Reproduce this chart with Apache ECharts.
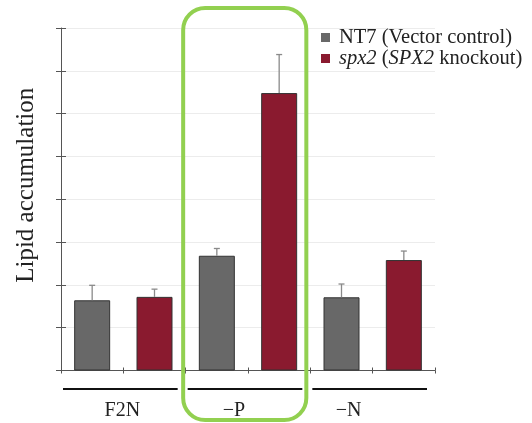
<!DOCTYPE html>
<html>
<head>
<meta charset="utf-8">
<script src="https://cdn.jsdelivr.net/npm/echarts@6/dist/echarts.min.js"></script>
<style>
  html, body { margin: 0; padding: 0; background: #fff; }
  #chart { width: 532px; height: 423px; }
</style>
</head>
<body>
<div id="chart"></div>
<script>
// 数据
var groups = ["F2N", "\u2212P", "\u2212N"];
var seriesNames = ["NT7 (Vector control)", "spx2 (SPX2 knockout)"];
var nt7Values = [1.64, 2.68, 1.71];
var nt7Err = [0.35, 0.17, 0.31];
var spx2Values = [1.72, 6.48, 2.58];
var spx2Err = [0.18, 0.9, 0.21];
var yTicks = [0, 1, 2, 3, 4, 5, 6, 7, 8];

var serif = "Liberation Serif";
var gray = "#686868";
var red = "#8a1a2f";

// 每组两个柱子，拆成6个类目
var slots = [];
var nt7Data = [];
var spx2Data = [];
var errData = [];
for (var i = 0; i < groups.length; i++) {
  slots.push(groups[i] + "-a", groups[i] + "-b");
  nt7Data.push(nt7Values[i], "-");
  spx2Data.push("-", spx2Values[i]);
  errData.push([i * 2, nt7Values[i], nt7Err[i]]);
  errData.push([i * 2 + 1, spx2Values[i], spx2Err[i]]);
}

var myChart = echarts.init(document.getElementById("chart"));

var option = {
  animation: false,
  legend: {
    orient: "vertical",
    left: 316,
    top: 22,
    icon: "rect",
    itemWidth: 9,
    itemHeight: 9,
    itemGap: 0,
    selectedMode: false,
    data: seriesNames,
    itemStyle: { borderWidth: 0 },
    formatter: function (name) {
      if (name === seriesNames[1]) {
        return "{i|spx2} ({i|SPX2} knockout)";
      }
      return name;
    },
    textStyle: {
      fontFamily: serif,
      fontSize: 20.5,
      lineHeight: 20,
      color: "#222",
      padding: [0, 0, 0, 4],
      rich: {
        i: { fontFamily: serif, fontSize: 20.5, fontStyle: "italic", color: "#222" },
      },
    },
  },
  grid: {
    left: 61,
    right: 97,
    top: 28,
    bottom: 52.5,
  },
  xAxis: [
    {
      type: "category",
      data: slots,
      axisLabel: { show: false },
      axisLine: { lineStyle: { color: "#555", width: 1 } },
      axisTick: { show: true, length: 3, lineStyle: { color: "#555" } },
    },
    {
      // 向上的刻度
      type: "category",
      data: slots,
      position: "bottom",
      axisLabel: { show: false },
      axisLine: { show: false },
      axisTick: { show: true, inside: true, length: 3, lineStyle: { color: "#555" } },
    },
  ],
  yAxis: [
    {
      type: "value",
      min: yTicks[0],
      max: yTicks[yTicks.length - 1],
      interval: 1,
      name: "Lipid accumulation",
      nameLocation: "middle",
      nameGap: 22,
      nameTextStyle: {
        fontFamily: serif,
        fontSize: 25,
        color: "#222",
        padding: [0, 0, 0, 28],
      },
      axisLabel: { show: false },
      axisLine: { show: true, lineStyle: { color: "#555", width: 1 } },
      axisTick: { show: true, length: 5, lineStyle: { color: "#555" } },
      splitLine: { show: true, lineStyle: { color: "#ececec", width: 1 } },
    },
    {
      type: "value",
      min: yTicks[0],
      max: yTicks[yTicks.length - 1],
      interval: 1,
      position: "left",
      axisLabel: { show: false },
      axisLine: { show: false },
      axisTick: { show: true, inside: true, length: 5, lineStyle: { color: "#555" } },
      splitLine: { show: false },
    },
  ],
  series: [
    {
      name: seriesNames[0],
      type: "bar",
      data: nt7Data,
      barWidth: 36,
      barGap: "-100%",
      itemStyle: { color: gray, borderColor: "#333", borderWidth: 1 },
    },
    {
      name: seriesNames[1],
      type: "bar",
      data: spx2Data,
      barWidth: 36,
      barGap: "-100%",
      itemStyle: { color: red, borderColor: "#333", borderWidth: 1 },
    },
    {
      // 误差线
      type: "custom",
      data: errData,
      z: 5,
      renderItem: function (params, api) {
        var x = api.value(0);
        var v = api.value(1);
        var e = api.value(2);
        var p0 = api.coord([x, v]);
        var p1 = api.coord([x, v + e]);
        var style = { stroke: "#8a8a8a", lineWidth: 1.3 };
        return {
          type: "group",
          children: [
            { type: "line", shape: { x1: p0[0], y1: p0[1], x2: p1[0], y2: p1[1] }, style: style },
            { type: "line", shape: { x1: p1[0] - 3, y1: p1[1], x2: p1[0] + 3, y2: p1[1] }, style: style },
          ],
        };
      },
    },
  ],
};

myChart.setOption(option);

// 分组下划线、组名、绿色框
var centers = slots.map(function (s, idx) {
  return myChart.convertToPixel({ xAxisIndex: 0 }, idx);
});
var step = centers[1] - centers[0];
var labelShift = [-1, -14, -24];
var graphics = [];
for (var g = 0; g < groups.length; g++) {
  var x0 = centers[g * 2] - step / 2;
  var x1 = centers[g * 2 + 1] + step / 2;
  graphics.push({
    type: "line",
    shape: { x1: x0 + 2, y1: 389, x2: x1 - 8, y2: 389 },
    style: { stroke: "#111", lineWidth: 2 },
  });
  graphics.push({
    type: "text",
    x: (x0 + x1) / 2 + labelShift[g],
    y: 411,
    style: {
      text: groups[g],
      font: "20px " + serif,
      fill: "#222",
      align: "center",
      verticalAlign: "middle",
    },
  });
}
var px0 = centers[2] - step / 2;
var px1 = centers[3] + step / 2;
graphics.push({
  type: "rect",
  shape: { x: px0 - 2.5, y: 8, width: px1 - px0 - 1.5, height: 412, r: 22 },
  style: { fill: "none", stroke: "#92d050", lineWidth: 4 },
  z: 10,
});
myChart.setOption({ graphic: graphics });

window.addEventListener("resize", function () {
  myChart.resize();
});
</script>
</body>
</html>
